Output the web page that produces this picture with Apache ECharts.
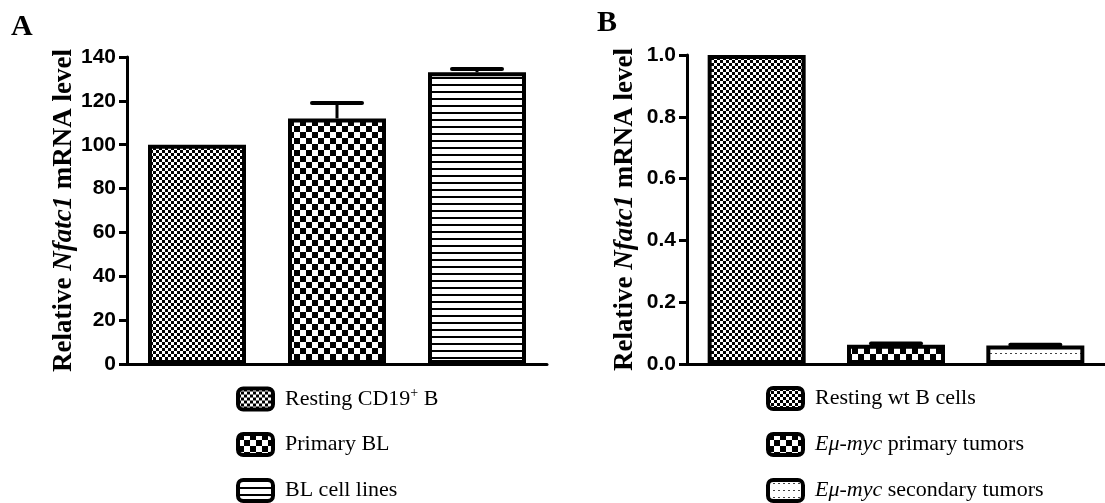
<!DOCTYPE html>
<html>
<head>
<meta charset="utf-8">
<script src="https://cdn.jsdelivr.net/npm/echarts@6/dist/echarts.min.js"></script>
<style>html,body{margin:0;padding:0;background:#fff}#c{width:1105px;height:503px}</style>
</head>
<body>
<div id="c"></div>
<script>
// ---- data ----
const categoriesA = ['Resting CD19+ B', 'Primary BL', 'BL cell lines'];
const valuesA = [100, 112, 133];
const errorsA = [0, 7, 1.5];
const categoriesB = ['Resting wt B cells', 'Eμ-myc primary tumors', 'Eμ-myc secondary tumors'];
const valuesB = [1.0, 0.062, 0.06];
const errorsB = [0, 0.004, 0.002];
const yMaxA = 140, yStepA = 20;
const yMaxB = 1.0, yStepB = 0.2;

// ---- patterns ----
function pat(w, h, draw) {
  const c = document.createElement('canvas');
  c.width = w; c.height = h;
  const g = c.getContext('2d');
  g.fillStyle = '#fff'; g.fillRect(0, 0, w, h);
  g.fillStyle = '#000';
  draw(g);
  return { image: c, repeat: 'repeat' };
}
const fineCheck = () => pat(6, 6, g => { g.fillRect(0, 0, 3, 3); g.fillRect(3, 3, 3, 3); });
const coarseCheck = () => pat(12, 12, g => { g.fillRect(0, 0, 6, 6); g.fillRect(6, 6, 6, 6); });
const hLines = () => pat(4, 7, g => { g.fillRect(0, 0, 4, 2); });
const dotLines = () => pat(5, 7, g => { g.fillStyle = '#444'; g.fillRect(0, 3, 2, 1); });
const patternsA = [fineCheck(), coarseCheck(), hLines()];
const patternsB = [fineCheck(), coarseCheck(), dotLines()];

const rich = {
  sup: { fontSize: 14, fontFamily: 'Liberation Serif', padding: [0, 0, 12, 0], lineHeight: 14, color: '#000' },
  it: { fontStyle: 'italic', fontSize: 22, lineHeight: 22, fontFamily: 'Liberation Serif', color: '#000' },
  n: { fontSize: 22, lineHeight: 22, fontFamily: 'Liberation Serif', color: '#000' }
};
function fmtLegend(name) {
  if (name === 'Resting CD19+ B') return '{n|Resting CD19}{sup|+}{n| B}';
  if (name.startsWith('Eμ-myc')) return '{it|Eμ-myc}{n|' + name.slice(6) + '}';
  return '{n|' + name + '}';
}

function barSeries(cats, vals, pats, axisIdx) {
  return cats.map((c, i) => ({
    type: 'bar', name: c, xAxisIndex: axisIdx, yAxisIndex: axisIdx,
    barWidth: 98, barGap: '-100%',
    data: vals.map((v, j) => (j === i ? v : '-')),
    itemStyle: { color: pats[i], borderColor: '#000', borderWidth: 4 },
    emphasis: { disabled: true }
  }));
}
function errSeries(vals, errs, axisIdx) {
  return {
    type: 'custom', xAxisIndex: axisIdx, yAxisIndex: axisIdx, z: 5,
    data: vals.map((v, i) => [i, v, errs[i]]),
    encode: { x: 0, y: 1 },
    renderItem: function (params, api) {
      const x = api.value(0), v = api.value(1), e = api.value(2);
      if (!e) return;
      const p0 = api.coord([x, v]);
      const p1 = api.coord([x, v + e]);
      return {
        type: 'group', children: [
          { type: 'line', shape: { x1: p0[0], y1: p0[1], x2: p1[0], y2: p1[1] }, style: { stroke: '#000', lineWidth: 3 } },
          { type: 'line', shape: { x1: p1[0] - 25, y1: p1[1], x2: p1[0] + 25, y2: p1[1] }, style: { stroke: '#000', lineWidth: 4, lineCap: 'round' } }
        ]
      };
    }
  };
}

function xAx(cats, gi) {
  return {
    type: 'category', gridIndex: gi, data: cats,
    axisLine: { lineStyle: { color: '#000', width: 3 } },
    axisTick: { alignWithLabel: true, length: 12, lineStyle: { width: 2.5, color: '#000' } },
    axisLabel: { show: false }
  };
}
function yAx(gi, max, step, dec, gap) {
  return {
    type: 'value', gridIndex: gi, min: 0, max: max, interval: step,
    splitLine: { show: false },
    axisLine: { show: true, lineStyle: { color: '#000', width: 3 } },
    axisTick: { show: true, length: 8, lineStyle: { width: 3, color: '#000' } },
    axisLabel: {
      margin: 11, color: '#000', fontFamily: 'Liberation Sans', fontWeight: 'bold', fontSize: 21,
      formatter: v => v.toFixed(dec)
    },
    name: '{b|Relative }{bi|Nfatc1}{b| mRNA level}',
    nameLocation: 'middle', nameGap: gap, nameRotate: 90,
    nameTextStyle: {
      rich: {
        b: { fontFamily: 'Liberation Serif', fontWeight: 'bold', fontSize: 27, color: '#000' },
        bi: { fontFamily: 'Liberation Serif', fontWeight: 'bold', fontStyle: 'italic', fontSize: 27, color: '#000' }
      }
    }
  };
}
// one legend component per row, so rows never wrap
const legendRowTops = [386, 432, 478];
function legendsFor(cats, left) {
  return cats.map((c, i) => ({
    orient: 'vertical', left: left, top: legendRowTops[i], padding: 0,
    itemWidth: 35, itemHeight: 21,
    data: [{ name: c, itemStyle: { borderColor: '#000', borderWidth: 4 } }],
    formatter: fmtLegend, selectedMode: false,
    textStyle: { rich: rich, padding: [0, 0, 0, 7] }
  }));
}

const chart = echarts.init(document.getElementById('c'), null, { renderer: 'canvas' });
chart.setOption({
  animation: false,
  backgroundColor: '#fff',
  title: [
    { text: 'A', left: 6, top: 7, textStyle: { fontFamily: 'Liberation Serif', fontWeight: 'bold', fontSize: 30, color: '#000' } },
    { text: 'B', left: 592, top: 3, textStyle: { fontFamily: 'Liberation Serif', fontWeight: 'bold', fontSize: 30, color: '#000' } }
  ],
  grid: [
    { left: 127, top: 57, width: 420, height: 307 },
    { left: 687, top: 55, width: 423, height: 309 }
  ],
  xAxis: [xAx(categoriesA, 0), xAx(categoriesB, 1)],
  yAxis: [yAx(0, yMaxA, yStepA, 0, 48), yAx(1, yMaxB, yStepB, 1, 48)],
  legend: [...legendsFor(categoriesA, 236), ...legendsFor(categoriesB, 766)],
  series: [
    ...barSeries(categoriesA, valuesA, patternsA, 0),
    errSeries(valuesA, errorsA, 0),
    ...barSeries(categoriesB, valuesB, patternsB, 1),
    errSeries(valuesB, errorsB, 1)
  ]
});
</script>
</body>
</html>
